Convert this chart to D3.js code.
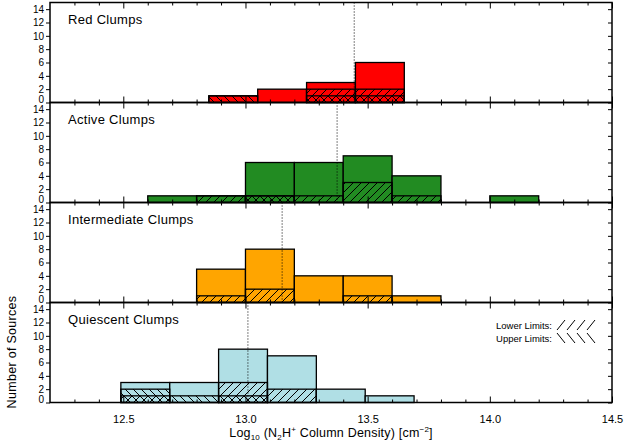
<!DOCTYPE html>
<html>
<head>
<meta charset="utf-8">
<script src="https://cdn.jsdelivr.net/npm/d3@7"></script>
<style>
  html, body { margin: 0; padding: 0; background: #fff; }
  svg { display: block; font-family: "Liberation Sans", Arial, Helvetica, sans-serif; }
</style>
</head>
<body>
<svg id="chart" width="639" height="442"></svg>
<script>
// N2H+ column density histograms for four clump classes
const panelNames = ["Red Clumps", "Active Clumps", "Intermediate Clumps", "Quiescent Clumps"];
const panelColors = ["#ff0000", "#228b22", "#ffa500", "#b0dfe5"];
const binWidth = 0.2;
const binStarts = [12.85, 12.6, 12.8, 12.49];

// total counts per bin
const redCounts = [1, 2, 3, 6];
const activeCounts = [1, 1, 6, 6, 7, 4, 0, 1];
const intermediateCounts = [5, 8, 4, 4, 1];
const quiescentCounts = [3, 3, 8, 7, 2, 1];

// lower limits (forward hatch)
const redLower = [0, 0, 2, 2];
const activeLower = [0, 1, 1, 1, 3, 1, 0, 0];
const intermediateLower = [1, 2, 0, 1, 0];
const quiescentLower = [1, 0, 3, 2, 0, 0];

// upper limits (back hatch)
const redUpper = [1, 0, 1, 1];
const activeUpper = [0, 0, 1, 0, 0, 0, 0, 0];
const intermediateUpper = [0, 0, 0, 0, 0];
const quiescentUpper = [2, 1, 1, 0, 0, 0];

// median column density per class
const medians = [13.445, 13.375, 13.15, 13.01];

const xMajorTicks = [12.5, 13.0, 13.5, 14.0, 14.5];
const xMinorTicks = [12.3, 12.4, 12.6, 12.7, 12.8, 12.9, 13.1, 13.2, 13.3, 13.4,
                     13.6, 13.7, 13.8, 13.9, 14.1, 14.2, 14.3, 14.4];
const yTicks = [0, 2, 4, 6, 8, 10, 12, 14];

const counts = [redCounts, activeCounts, intermediateCounts, quiescentCounts];
const lowers = [redLower, activeLower, intermediateLower, quiescentLower];
const uppers = [redUpper, activeUpper, intermediateUpper, quiescentUpper];

const svg = d3.select("#chart");
const left = 50, right = 612, top0 = 2.5, panelH = 100;

const x = d3.scaleLinear().domain([12.2, 14.5]).range([left, right]);

// hatch patterns
const defs = svg.append("defs");
function hatch(id, d) {
  defs.append("pattern")
    .attr("id", id)
    .attr("patternUnits", "userSpaceOnUse")
    .attr("width", 8).attr("height", 8)
    .append("path")
    .attr("d", d)
    .attr("stroke", "#000")
    .attr("stroke-width", 1)
    .attr("fill", "none");
}
hatch("fwd", "M-2,2 L2,-2 M0,8 L8,0 M6,10 L10,6");
hatch("back", "M-2,6 L2,10 M0,0 L8,8 M6,-2 L10,2");

panelNames.forEach((name, p) => {
  const top = top0 + p * panelH;
  const bottom = top + panelH;
  const y = d3.scaleLinear().domain([0, 15]).range([bottom, top]);
  const g = svg.append("g");

  const bins = counts[p].map((c, i) => ({
    x0: binStarts[p] + i * binWidth,
    x1: binStarts[p] + (i + 1) * binWidth,
    n: c,
    lo: lowers[p][i],
    up: uppers[p][i]
  }));

  // bars
  g.selectAll("rect.bar").data(bins).enter().append("rect")
    .attr("class", "bar")
    .attr("x", d => x(d.x0)).attr("width", d => x(d.x1) - x(d.x0))
    .attr("y", d => y(d.n)).attr("height", d => y(0) - y(d.n))
    .attr("fill", panelColors[p])
    .attr("stroke", "#000").attr("stroke-width", 1.3);

  // lower limit hatching
  g.selectAll("rect.lo").data(bins.filter(d => d.lo > 0)).enter().append("rect")
    .attr("class", "lo")
    .attr("x", d => x(d.x0)).attr("width", d => x(d.x1) - x(d.x0))
    .attr("y", d => y(d.lo)).attr("height", d => y(0) - y(d.lo))
    .attr("fill", "url(#fwd)")
    .attr("stroke", "#000").attr("stroke-width", 1.3);

  // upper limit hatching
  g.selectAll("rect.up").data(bins.filter(d => d.up > 0)).enter().append("rect")
    .attr("class", "up")
    .attr("x", d => x(d.x0)).attr("width", d => x(d.x1) - x(d.x0))
    .attr("y", d => y(d.up)).attr("height", d => y(0) - y(d.up))
    .attr("fill", "url(#back)")
    .attr("stroke", "#000").attr("stroke-width", 1.3);

  // median line
  g.append("line")
    .attr("x1", x(medians[p])).attr("x2", x(medians[p]))
    .attr("y1", top).attr("y2", bottom)
    .attr("stroke", "#000").attr("stroke-width", 1)
    .attr("stroke-dasharray", "1,2");

  // axes with inward ticks
  const styleAxis = a => {
    a.select(".domain").remove();
    a.selectAll(".tick line").attr("stroke", "#000").attr("stroke-width", 1);
  };
  g.append("g").attr("transform", `translate(0,${bottom})`)
    .call(d3.axisBottom(x).tickValues(xMinorTicks).tickSize(-3).tickFormat(""))
    .call(styleAxis);
  g.append("g").attr("transform", `translate(0,${top})`)
    .call(d3.axisTop(x).tickValues(xMinorTicks).tickSize(-3).tickFormat(""))
    .call(styleAxis);
  g.append("g").attr("transform", `translate(0,${top})`)
    .call(d3.axisTop(x).tickValues(xMajorTicks).tickSize(-6).tickFormat(""))
    .call(styleAxis);
  const bAxis = g.append("g").attr("transform", `translate(0,${bottom})`)
    .call(d3.axisBottom(x).tickValues(xMajorTicks).tickSize(-6)
      .tickPadding(13).tickFormat(p === 3 ? d3.format(".1f") : ""))
    .call(styleAxis);
  bAxis.selectAll("text").attr("font-size", 11).attr("fill", "#000")
    .attr("font-family", "Liberation Sans, Arial, sans-serif");

  const lAxis = g.append("g").attr("transform", `translate(${left},0)`)
    .call(d3.axisLeft(y).tickValues(yTicks).tickSize(4).tickPadding(2))
    .call(styleAxis);
  lAxis.selectAll("text").attr("font-size", 10).attr("fill", "#000")
    .attr("font-family", "Liberation Sans, Arial, sans-serif");
  // the zero label sits a little above its tick, clear of the panel below
  lAxis.selectAll(".tick").filter(d => d === 0).select("text").attr("dy", "-0.05em");

  g.append("g").attr("transform", `translate(${right},0)`)
    .call(d3.axisRight(y).tickValues(yTicks).tickSize(-4).tickFormat(""))
    .call(styleAxis);

  // frame
  g.append("rect")
    .attr("x", left).attr("y", top)
    .attr("width", right - left).attr("height", panelH)
    .attr("fill", "none").attr("stroke", "#000").attr("stroke-width", 1.5);

  // panel title
  g.append("text")
    .attr("x", 68).attr("y", top + 21)
    .attr("font-size", 13).attr("fill", "#000")
    .attr("letter-spacing", 0.3)
    .text(name);
});

// y title
svg.append("text")
  .attr("transform", "translate(16,352) rotate(-90)")
  .attr("text-anchor", "middle")
  .attr("font-size", 12.5).attr("fill", "#000")
  .attr("letter-spacing", 0.3)
  .text("Number of Sources");

// x title
const xt = svg.append("text")
  .attr("x", 331).attr("y", 437)
  .attr("text-anchor", "middle")
  .attr("font-size", 12.5).attr("fill", "#000")
  .attr("letter-spacing", 0.2);
xt.append("tspan").text("Log");
xt.append("tspan").attr("font-size", 8).attr("dy", 3).text("10");
xt.append("tspan").attr("dy", -3).text(" (N");
xt.append("tspan").attr("font-size", 8).attr("dy", 3).text("2");
xt.append("tspan").attr("dy", -3).text("H");
xt.append("tspan").attr("font-size", 8).attr("dy", -5).text("+");
xt.append("tspan").attr("dy", 5).text(" Column Density) [cm");
xt.append("tspan").attr("font-size", 8).attr("dy", -5).text("\u22122");
xt.append("tspan").attr("dy", 5).text("]");

// legend
const legendItems = [
  { label: "Lower Limits:", dir: 1, y: 325 },
  { label: "Upper Limits:", dir: -1, y: 338 }
];
const lg = svg.append("g");
legendItems.forEach(it => {
  lg.append("text")
    .attr("x", 552).attr("y", it.y + 3.5)
    .attr("text-anchor", "end")
    .attr("font-size", 9.5).attr("fill", "#000")
    .text(it.label);
  lg.selectAll(null).data([0, 1, 2, 3]).enter().append("line")
    .attr("x1", k => 557 + k * 10)
    .attr("x2", k => 565 + k * 10)
    .attr("y1", it.dir > 0 ? it.y + 5 : it.y - 5)
    .attr("y2", it.dir > 0 ? it.y - 5 : it.y + 5)
    .attr("stroke", "#000").attr("stroke-width", 1);
});
</script>
</body>
</html>
